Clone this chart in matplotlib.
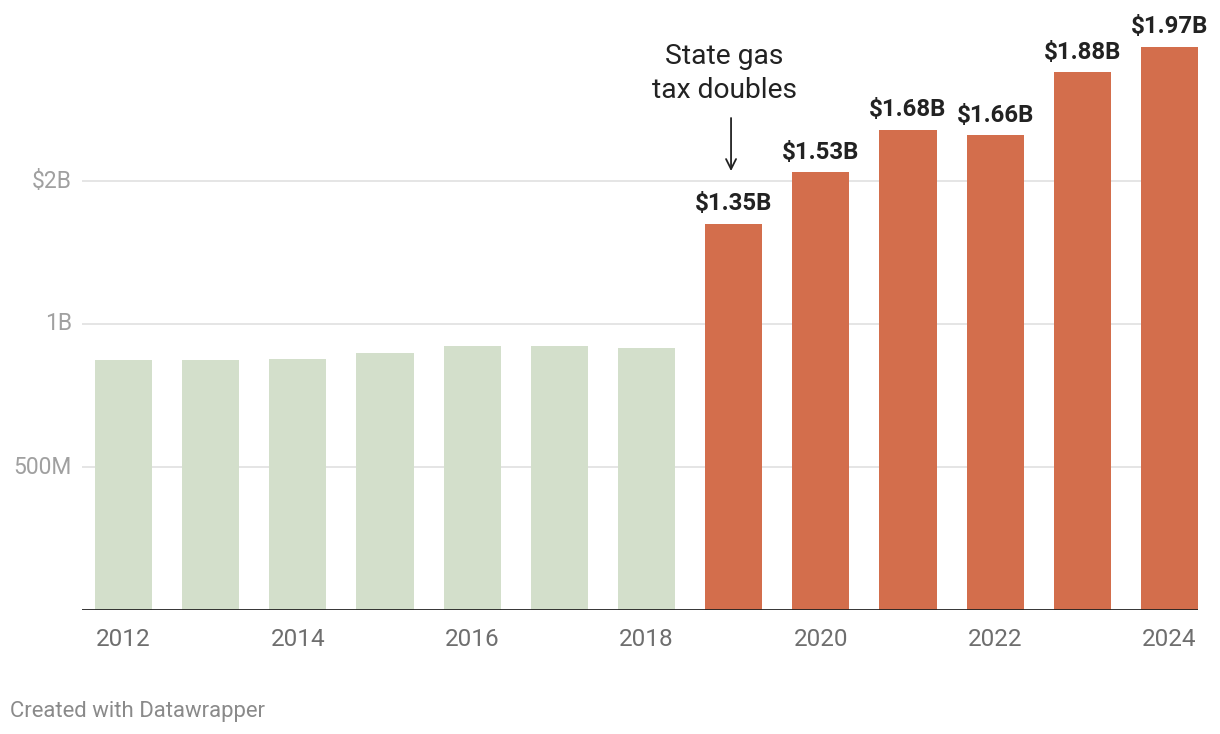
import matplotlib
matplotlib.use("Agg")
import matplotlib.pyplot as plt

plt.rcParams['font.family'] = ['Roboto', 'DejaVu Sans']

# Data (billions of dollars)
years = [2012, 2013, 2014, 2015, 2016, 2017, 2018, 2019, 2020, 2021, 2022, 2023, 2024]
revenue = [0.874, 0.874, 0.878, 0.899, 0.923, 0.923, 0.916, 1.35, 1.53, 1.68, 1.66, 1.88, 1.97]
labels = [None] * 7 + ['$1.35B', '$1.53B', '$1.68B', '$1.66B', '$1.88B', '$1.97B']
ytick_vals = [0.5, 1.0, 1.5]
ytick_labels = ['500M', '1B', '$2B']
xtick_years = [2012, 2014, 2016, 2018, 2020, 2022, 2024]

green = '#d3dfcb'
orange = '#d36e4c'
colors = [green if y < 2019 else orange for y in years]

W, H = 1220, 734
fig = plt.figure(figsize=(W / 100, H / 100), dpi=100)
fig.patch.set_facecolor('white')
ax = fig.add_axes([82 / W, 124 / H, (1198 - 82) / W, 610 / H])

ax.bar(years, revenue, width=0.655, color=colors, zorder=2)

ax.set_xlim(2011.524, 2024.327)
ax.set_ylim(0, 610 / 286)

for v, lab in zip(ytick_vals, ytick_labels):
    ax.axhline(v, color='#e3e3e3', lw=1.3, zorder=1)
    ax.text(-0.009, v, lab, transform=ax.get_yaxis_transform(),
            ha='right', va='center', fontsize=16.5, color='#a0a0a0')
ax.axhline(0, color='#222222', lw=2, zorder=3)

for y, v, lab in zip(years, revenue, labels):
    if lab:
        ax.text(y, v + 0.03, lab, ha='center', va='bottom', fontsize=17.3,
                fontweight='bold', color='#222222')

ax.set_xticks(xtick_years)
ax.set_xticklabels([str(y) for y in xtick_years])
ax.tick_params(axis='x', length=0, pad=13, labelsize=17.5, labelcolor='#6e6e6e')
ax.set_yticks([])
for s in ax.spines.values():
    s.set_visible(False)

# Annotation
ax.annotate('', xy=(2019 - 0.03, 1.525), xytext=(2019 - 0.03, 1.73),
            arrowprops=dict(arrowstyle='->', color='#222222', lw=1.3, mutation_scale=18))
ax.text(2019 - 0.11, 1.769, 'State gas\ntax doubles', ha='center', va='bottom',
        fontsize=20.3, color='#222222', linespacing=1.32)

fig.text(10 / W, 1 - 711 / H, 'Created with Datawrapper', ha='left', va='center',
         fontsize=15.9, color='#8a8a8a')

fig.savefig('out.png', dpi=100, facecolor='white')
